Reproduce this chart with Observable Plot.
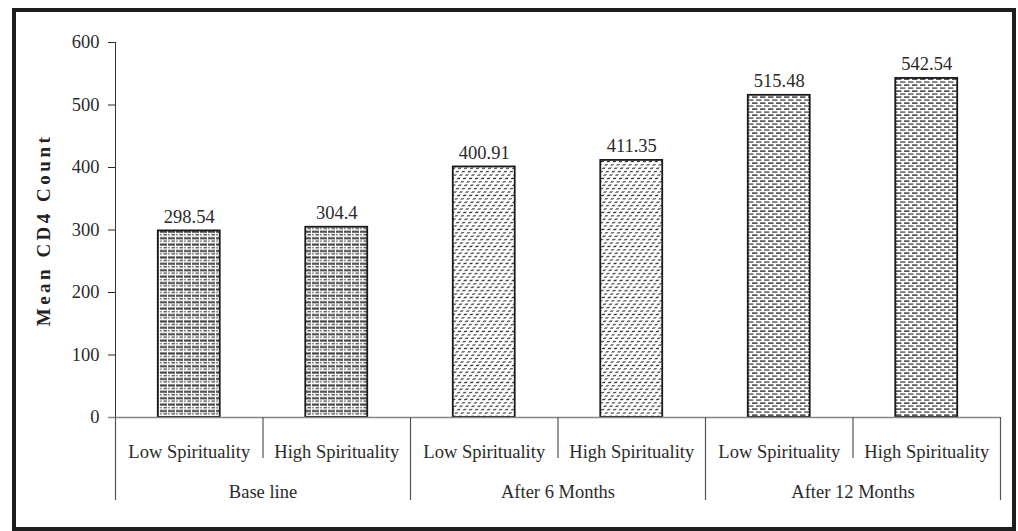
<!DOCTYPE html>
<html>
<head>
<meta charset="utf-8">
<script src="https://cdn.jsdelivr.net/npm/d3@7"></script>
<script src="https://cdn.jsdelivr.net/npm/@observablehq/plot@0.6"></script>
<style>
  html, body { margin: 0; padding: 0; background: #fff; }
  #wrap { position: relative; width: 1018px; height: 531px; overflow: hidden; }
  #wrap svg { position: absolute; left: 0; top: 0; }
  #border {
    position: absolute; left: 12px; top: 8px; width: 1004px; height: 523px;
    box-sizing: border-box; border: 4px solid #1e1e1e; pointer-events: none;
  }
</style>
</head>
<body>
<div id="wrap"><div id="border"></div></div>
<script>
// Study periods and spirituality levels
const groups = ["Base line", "After 6 Months", "After 12 Months"];
const levels = ["Low Spirituality", "High Spirituality"];
// Mean CD4 count per period, [low, high]
const meanCD4 = [
  [298.54, 304.4],
  [400.91, 411.35],
  [515.48, 542.54]
];
const yTicks = [0, 100, 200, 300, 400, 500, 600];
const patternIds = ["hatch-base", "hatch-6m", "hatch-12m"];

// One row per bar, placed on a 0..6 slot axis
const bars = [];
groups.forEach((g, gi) => {
  levels.forEach((lv, li) => {
    bars.push({group: g, level: lv, value: meanCD4[gi][li], slot: gi * 2 + li, pattern: `url(#${patternIds[gi]})`});
  });
});
const groupCenters = groups.map((g, gi) => ({group: g, x: gi * 2 + 1}));
const boundaries = d3.range(0, 7).map(x => ({x, long: x % 2 === 0}));

const W = 1018, H = 531;
const margin = {top: 42, right: 18, bottom: 114, left: 115};
const plotH = H - margin.top - margin.bottom;
const unitsPerPx = 600 / plotH;
const barW = 0.42;
const font = "Liberation Serif, Times New Roman, serif";

const chart = Plot.plot({
  width: W,
  height: H,
  marginTop: margin.top,
  marginRight: margin.right,
  marginBottom: margin.bottom,
  marginLeft: margin.left,
  style: {fontFamily: font, fontSize: "18.5px", color: "#2a2a2a", background: "transparent", overflow: "visible"},
  x: {domain: [0, 6], axis: null},
  y: {domain: [0, 600], ticks: yTicks, tickSize: 7, tickPadding: 9, tickFormat: d => String(d), label: null},
  color: {type: "identity"},
  marks: [
    // value axis line
    Plot.ruleX([0], {x: d => d, y1: 0, y2: 600, stroke: "#333", strokeWidth: 1}),
    // bars
    Plot.rectY(bars, {
      x1: d => d.slot + 0.5 - barW / 2,
      x2: d => d.slot + 0.5 + barW / 2,
      y1: 0,
      y2: "value",
      fill: "pattern",
      stroke: "#1a1a1a",
      strokeWidth: 1.8
    }),
    // category axis baseline
    Plot.ruleY([0], {stroke: "#888", strokeWidth: 1.5, insetLeft: -7}),
    // category separators below the baseline
    Plot.ruleX(boundaries, {
      x: "x",
      y1: 0,
      y2: d => -(d.long ? 83 : 41) * unitsPerPx,
      stroke: "#555",
      strokeWidth: 1.2
    }),
    // value labels
    Plot.text(bars, {x: d => d.slot + 0.5, y: "value", text: d => String(d.value), dy: -14, fill: "#2a2a2a"}),
    // level labels
    Plot.text(bars, {x: d => d.slot + 0.5, y: 0, text: "level", dy: 35, fill: "#2a2a2a"}),
    // period labels
    Plot.text(groupCenters, {x: "x", y: 0, text: "group", dy: 75, fill: "#2a2a2a"}),
    // y axis title
    Plot.text(["Mean CD4 Count"], {frameAnchor: "left", textAnchor: "middle", rotate: -90, dx: -72, fontWeight: "bold", fontSize: 19, fill: "#222", className: "ytitle"})
  ]
});

document.getElementById("wrap").insertBefore(chart, document.getElementById("border"));

// spacing on the y title letters
d3.select(chart).selectAll(".ytitle text").attr("letter-spacing", "3.5px");

// fill patterns for the three periods
const defs = d3.select(chart).insert("defs", ":first-child");

// Base line: rows of horizontal dashes
const p0 = defs.append("pattern").attr("id", patternIds[0]).attr("patternUnits", "userSpaceOnUse")
  .attr("width", 8).attr("height", 6.4);
p0.append("rect").attr("width", 8).attr("height", 6.4).attr("fill", "#fff");
p0.append("rect").attr("x", 0).attr("y", 0.4).attr("width", 7).attr("height", 2).attr("fill", "#3a3a3a");
p0.append("rect").attr("x", 0).attr("y", 3.6).attr("width", 2).attr("height", 1.5).attr("fill", "#888");
p0.append("rect").attr("x", 3.5).attr("y", 3.6).attr("width", 3.5).attr("height", 1.5).attr("fill", "#555");

// After 6 months: short dashes along a diagonal
const p1 = defs.append("pattern").attr("id", patternIds[1]).attr("patternUnits", "userSpaceOnUse")
  .attr("width", 6).attr("height", 3.4).attr("patternTransform", "skewX(-35)");
p1.append("rect").attr("width", 6).attr("height", 3.4).attr("fill", "#fff");
p1.append("rect").attr("x", 0).attr("y", 1).attr("width", 3).attr("height", 1.3).attr("fill", "#3a3a3a");

// After 12 months: brick-like offset dashes
const p2 = defs.append("pattern").attr("id", patternIds[2]).attr("patternUnits", "userSpaceOnUse")
  .attr("width", 8).attr("height", 6);
p2.append("rect").attr("width", 8).attr("height", 6).attr("fill", "#fff");
p2.append("rect").attr("x", 0).attr("y", 0.3).attr("width", 5.5).attr("height", 1.7).attr("fill", "#555");
p2.append("rect").attr("x", 4).attr("y", 3.3).attr("width", 4).attr("height", 1.6).attr("fill", "#6a6a6a");
p2.append("rect").attr("x", 0).attr("y", 3.3).attr("width", 1.5).attr("height", 1.6).attr("fill", "#6a6a6a");
</script>
</body>
</html>
